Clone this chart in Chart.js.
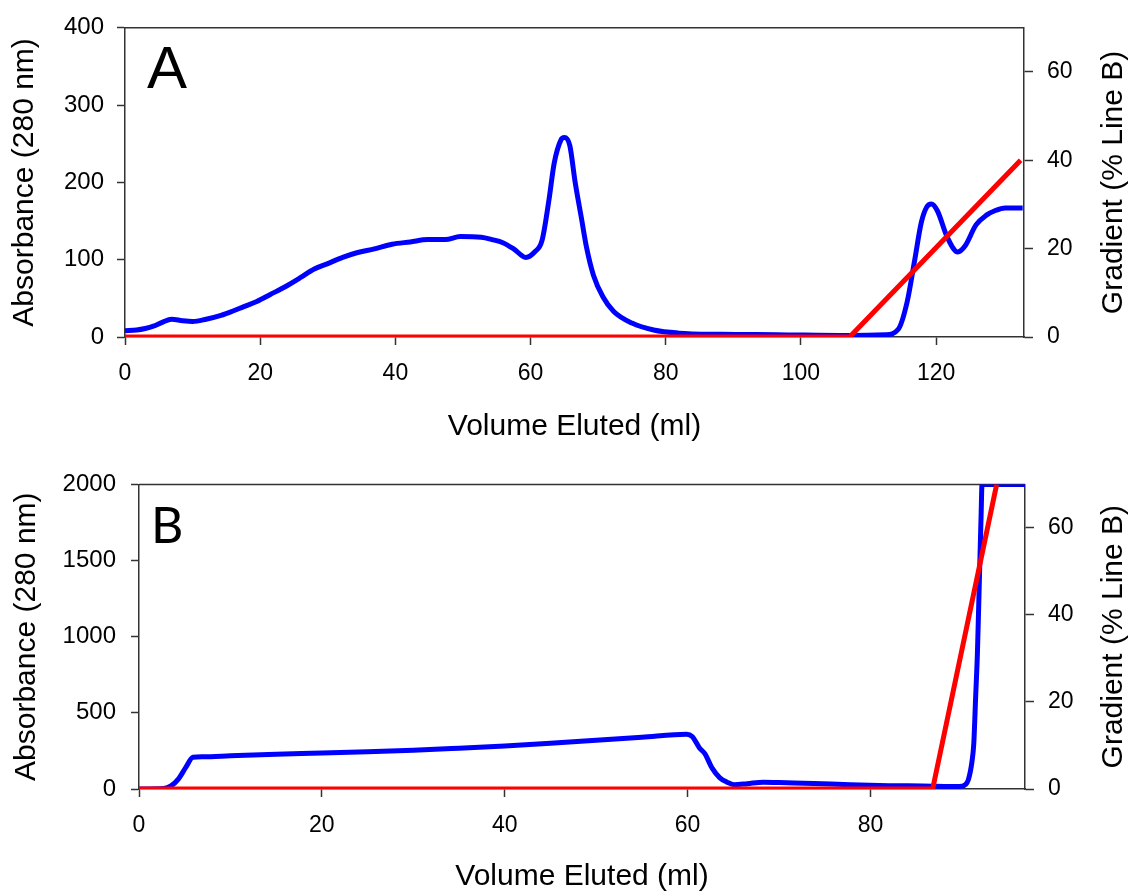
<!DOCTYPE html>
<html>
<head>
<meta charset="utf-8">
<script src="https://cdn.jsdelivr.net/npm/chart.js@4.4.1/dist/chart.umd.min.js"></script>
<style>
  html, body { margin: 0; padding: 0; background: #fff; overflow: hidden; }
  body { width: 1129px; height: 891px; position: relative; }
  canvas { position: absolute; left: 0; }
  #chartA { top: 0; }
  #chartB { top: 455px; }
</style>
</head>
<body>
<canvas id="chartA" width="1129" height="450"></canvas>
<canvas id="chartB" width="1129" height="456"></canvas>
<script>
// Panel A - absorbance trace (ml, mAU) and gradient (% line B)
const volA = [0, 1.7, 3, 4.2, 5.5, 6.9, 8.5, 10, 12, 14.2, 15.8, 17.5, 19.5, 21.5, 23.7, 26, 28, 30,
  32.2, 34.3, 36.9, 39.5, 42.2, 44.8, 47.4, 49.6, 52.7, 54.3, 55.9, 57.5, 59.3, 60.6, 61.7, 62.7,
  63.5, 64.5, 65, 65.8, 66.6, 67.5, 68.3, 69.3, 70.7, 72.3, 75, 78.2, 81.9, 88.3, 96.4, 107, 112.5,
  114.4, 115.7, 116.8, 117.8, 118.6, 119.3, 120.2, 121.6, 123.2, 124.3, 125.9, 127.5, 128.6, 130.2, 132.8];
const absA = [8, 9, 11, 14, 19, 23, 21, 20, 23, 28, 33, 39, 46, 55, 65, 77, 88, 95,
  103, 109, 114, 120, 123, 126, 126, 130, 129, 126, 122, 114, 103, 110, 125, 176,
  225, 255, 258, 248, 200, 155, 115, 80, 52, 33, 18, 9, 5, 3.5, 3, 2, 3,
  10, 45, 98, 148, 168, 172, 163, 130, 110, 118, 145, 158, 163, 167, 167];
const gradVolA = [0, 107.2, 132.5];
const gradA = [0, 0, 40];

// Panel B
const volB = [0, 2.7, 3.5, 4.3, 5.1, 5.9, 7, 10, 15, 20, 25, 30, 35, 40, 45, 50, 55, 59.9,
  60.5, 61.3, 61.9, 62.7, 63.5, 64.3, 65.1, 66.5, 68.3, 70, 73.8, 77.8, 82, 85.7, 89.7,
  90.4, 90.7, 91.1, 91.3, 91.5, 91.7, 91.9, 92.1, 92.2, 97];
const absB = [0, 3, 20, 65, 140, 208, 212, 218, 228, 236, 245, 255, 268, 282, 300, 320, 340, 360,
  345, 270, 230, 135, 75, 45, 28, 35, 45, 42, 36, 28, 22, 20, 16,
  30, 60, 180, 300, 600, 900, 1350, 1800, 2000, 2000];
const gradVolB = [0, 86.8, 93.8];
const gradB = [0, 0, 70];

const xTitle = 'Volume Eluted (ml)';
const yTitle = 'Absorbance (280 nm)';
const y2Title = 'Gradient (% Line B)';

const sans = "'Liberation Sans', Arial, sans-serif";
const axisColor = '#333';

function pts(xs, ys) {
    return xs.map((x, i) => ({ x: x, y: ys[i] }));
}

// plain numbers, no thousands separator
const plain = v => String(v);

// frame top line + right title + panel letter
const extras = {
    id: 'extras',
    beforeDatasetsDraw(chart) {
        const { ctx, chartArea } = chart;
        ctx.save();
        ctx.strokeStyle = axisColor;
        ctx.lineWidth = 1.5;
        ctx.beginPath();
        ctx.moveTo(chartArea.left, chartArea.top);
        ctx.lineTo(chartArea.right, chartArea.top);
        ctx.stroke();
        ctx.restore();
    },
    afterDraw(chart, args, opts) {
        const { ctx, chartArea } = chart;
        ctx.save();
        ctx.fillStyle = '#000';
        ctx.translate(opts.titleX, (chartArea.top + chartArea.bottom) / 2);
        ctx.rotate(-Math.PI / 2);
        ctx.font = '30px ' + sans;
        ctx.textAlign = 'center';
        ctx.textBaseline = 'middle';
        ctx.fillText(y2Title, 0, 0);
        ctx.restore();

        ctx.save();
        ctx.fillStyle = '#000';
        ctx.font = opts.letterFont;
        ctx.textBaseline = 'alphabetic';
        ctx.fillText(opts.letter, opts.letterX, opts.letterY);
        ctx.restore();
    }
};

function makeChart(id, cfg) {
    const ctx = document.getElementById(id).getContext('2d');
    return new Chart(ctx, {
        type: 'line',
        data: {
            datasets: [
                {
                    label: 'Gradient',
                    data: pts(cfg.gradVol, cfg.grad),
                    yAxisID: 'y2',
                    borderColor: '#ff0000',
                    borderWidth: 5,
                    pointRadius: 0,
                    tension: 0,
                    borderJoinStyle: 'round'
                },
                {
                    label: 'Absorbance',
                    data: pts(cfg.vol, cfg.abs),
                    yAxisID: 'y',
                    borderColor: '#0000ff',
                    borderWidth: 5,
                    pointRadius: 0,
                    cubicInterpolationMode: 'monotone',
                    borderJoinStyle: 'round'
                }
            ]
        },
        options: {
            responsive: false,
            animation: false,
            layout: { padding: { top: cfg.padTop, left: 0, right: 0, bottom: 0 } },
            plugins: {
                legend: { display: false },
                tooltip: { enabled: false },
                extras: cfg.extras
            },
            scales: {
                x: {
                    type: 'linear',
                    min: 0,
                    max: cfg.xMax,
                    grid: { display: true, drawOnChartArea: false, tickLength: 8, color: axisColor, tickWidth: 1.5 },
                    border: { display: true, color: axisColor, width: 1.5 },
                    ticks: { stepSize: 20, includeBounds: false, color: '#000', padding: 15, maxRotation: 0,
                             callback: plain, font: { family: sans, size: 23 } },
                    title: { display: true, text: xTitle, color: '#000', font: { family: sans, size: 30 },
                             padding: { top: 0, bottom: cfg.xTitlePad } },
                    afterFit(s) { s.height = cfg.xHeight; }
                },
                y: {
                    position: 'left',
                    min: 0,
                    max: cfg.yMax,
                    grid: { display: true, drawOnChartArea: false, tickLength: 8, color: axisColor, tickWidth: 1.5 },
                    border: { display: true, color: axisColor, width: 1.5 },
                    ticks: { stepSize: cfg.yStep, includeBounds: false, color: '#000', padding: cfg.yTickPad,
                             callback: plain, font: { family: sans, size: 24 } },
                    title: { display: true, text: yTitle, color: '#000', font: { family: sans, size: 30 },
                             padding: { top: cfg.yTitlePad, bottom: 0 } },
                    afterFit(s) { s.width = cfg.leftW; }
                },
                y2: {
                    position: 'right',
                    min: 0,
                    max: 70,
                    grid: { display: true, drawOnChartArea: false, tickLength: 9, color: axisColor, tickWidth: 1.5 },
                    border: { display: true, color: axisColor, width: 1.5 },
                    ticks: { stepSize: 20, includeBounds: false, color: '#000', padding: 14,
                             callback: plain, font: { family: sans, size: 23 } },
                    afterFit(s) { s.width = cfg.rightW; }
                }
            }
        },
        plugins: [extras]
    });
}

makeChart('chartA', {
    vol: volA, abs: absA, gradVol: gradVolA, grad: gradA,
    xMax: 133, yMax: 400, yStep: 100,
    padTop: 25, leftW: 125, rightW: 105, xHeight: 113,
    xTitlePad: 5, yTitlePad: 7, yTickPad: 13,
    extras: { titleX: 1114, letter: 'A', letterFont: '60px ' + sans, letterX: 147, letterY: 88 }
});

makeChart('chartB', {
    vol: volB, abs: absB, gradVol: gradVolB, grad: gradB,
    xMax: 96.9, yMax: 2000, yStep: 500,
    padTop: 27, leftW: 139, rightW: 104, xHeight: 122,
    xTitlePad: 16, yTitlePad: 9, yTickPad: 15,
    extras: { titleX: 1114, letter: 'B', letterFont: "50px Lato, 'Open Sans', sans-serif", letterX: 151, letterY: 88 }
});
</script>
</body>
</html>
